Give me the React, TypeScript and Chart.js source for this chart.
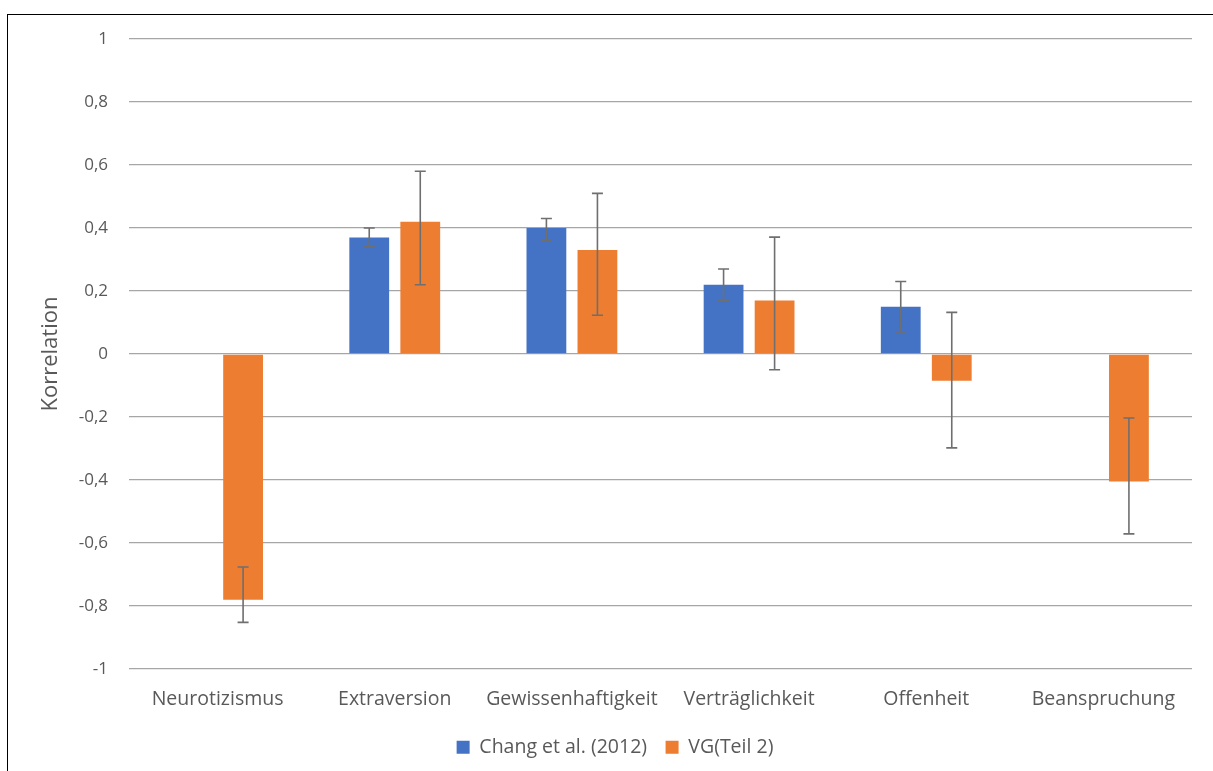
import React, { useEffect, useRef } from "react";
import { Chart, registerables } from "chart.js";

Chart.register(...registerables);

const categories = ["Neurotizismus", "Extraversion", "Gewissenhaftigkeit", "Verträglichkeit", "Offenheit", "Beanspruchung"];
const changValues = [null, 0.37, 0.4, 0.22, 0.15, null];
const changLow = [null, 0.34, 0.36, 0.17, 0.07, null];
const changHigh = [null, 0.4, 0.43, 0.27, 0.23, null];
const vgValues = [-0.78, 0.42, 0.33, 0.17, -0.085, -0.405];
const vgLow = [-0.852, 0.22, 0.123, -0.05, -0.298, -0.571];
const vgHigh = [-0.676, 0.58, 0.51, 0.371, 0.132, -0.203];
const seriesNames = ["Chang et al. (2012)", "VG(Teil 2)"];

const FONT = "'Open Sans', 'Noto Sans', sans-serif";
const TEXT = "#595959";

const errorBarPlugin = {
  id: "errorBars",
  afterDatasetsDraw(chart: any) {
    const ctx = chart.ctx;
    const y = chart.scales.y;
    const lows = [changLow, vgLow];
    const highs = [changHigh, vgHigh];
    ctx.save();
    ctx.strokeStyle = "#6f6f6f";
    ctx.lineWidth = 1.6;
    chart.data.datasets.forEach((ds: any, di: number) => {
      const meta = chart.getDatasetMeta(di);
      meta.data.forEach((el: any, i: number) => {
        const lo = lows[di][i];
        const hi = highs[di][i];
        if (lo == null || hi == null || ds.data[i] == null) return;
        const x = el.x;
        const y1 = y.getPixelForValue(lo);
        const y2 = y.getPixelForValue(hi);
        ctx.beginPath();
        ctx.moveTo(x, y1);
        ctx.lineTo(x, y2);
        ctx.moveTo(x - 5.5, y1);
        ctx.lineTo(x + 5.5, y1);
        ctx.moveTo(x - 5.5, y2);
        ctx.lineTo(x + 5.5, y2);
        ctx.stroke();
      });
    });
    ctx.restore();
  },
};

export default function App() {
  const ref = useRef<HTMLCanvasElement>(null);
  useEffect(() => {
    if (!ref.current) return;
    const chart = new Chart(ref.current, {
      type: "bar",
      data: {
        labels: categories,
        datasets: [
          { label: seriesNames[0], data: changValues as any, backgroundColor: "#4472C4", borderWidth: 0 },
          { label: seriesNames[1], data: vgValues, backgroundColor: "#ED7D31", borderWidth: 0 },
        ],
      },
      plugins: [errorBarPlugin],
      options: {
        animation: false,
        responsive: false,
        devicePixelRatio: 1,
        layout: { padding: { left: 38, right: 21, top: 39, bottom: 4 } },
        datasets: { bar: { categoryPercentage: 0.576, barPercentage: 0.78 } },
        plugins: {
          legend: {
            position: "bottom",
            labels: {
              boxWidth: 13,
              boxHeight: 13,
              color: TEXT,
              font: { family: FONT, size: 19.5 },
              padding: 18.5,
            },
          },
          tooltip: { enabled: false },
        },
        scales: {
          x: {
            grid: { display: false, drawTicks: false },
            border: { display: false },
            ticks: {
              color: TEXT,
              font: { family: FONT, size: 19.5 },
              padding: 19,
              maxRotation: 0,
              minRotation: 0,
              autoSkip: false,
            },
            afterFit: (s: any) => { s.height = 50; },
          },
          y: {
            min: -1,
            max: 1,
            ticks: {
              stepSize: 0.2,
              color: TEXT,
              font: { family: FONT, size: 17 },
              padding: 21,
              callback: (v: any) => {
                const n = Math.round(Number(v) * 10) / 10;
                return String(n).replace(".", ",");
              },
            },
            grid: { color: "#a6a6a6", lineWidth: 1.3, drawTicks: false },
            border: { display: false },
            title: { display: true, text: "Korrelation", color: TEXT, font: { family: FONT, size: 22 }, padding: 0 },
            afterFit: (s: any) => { s.width = 91; },
          },
        },
      },
    });
    return () => chart.destroy();
  }, []);
  return (
    <div style={{ position: "fixed", left: 0, top: 0, width: 1213, height: 771, overflow: "hidden", background: "#fff" }}>
      <canvas ref={ref} width={1213} height={771} style={{ position: "absolute", left: 0, top: 0 }} />
      <div style={{ position: "absolute", left: 7, top: 14, width: 1220, height: 800, borderLeft: "1.5px solid #000", borderTop: "1.5px solid #000", pointerEvents: "none" }} />
    </div>
  );
}
